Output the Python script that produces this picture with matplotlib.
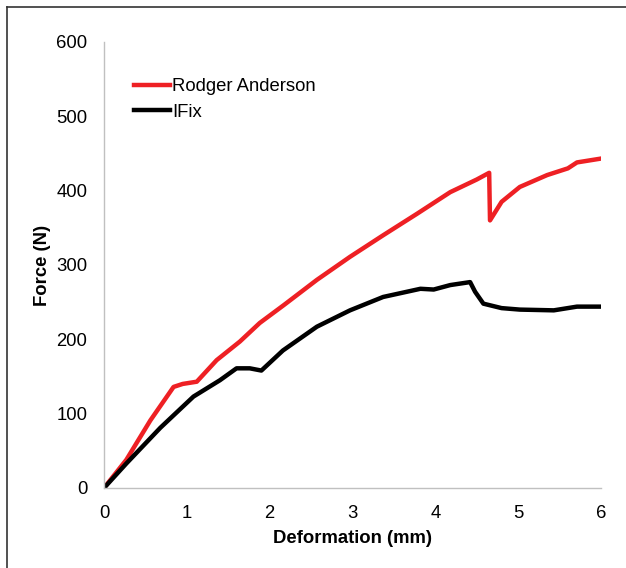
import matplotlib
matplotlib.use("Agg")
import matplotlib.pyplot as plt
from matplotlib.lines import Line2D

plt.rcParams['font.family'] = ['Liberation Sans', 'DejaVu Sans']

# Rodger Anderson
ra_x = [0.0, 0.27, 0.56, 0.84, 0.95, 1.12, 1.36, 1.64, 1.88, 2.17, 2.57, 2.97, 3.37,
        3.78, 4.18, 4.50, 4.65, 4.66, 4.80, 5.02, 5.35, 5.60, 5.71, 5.99]
ra_y = [0, 38, 91, 136, 140, 143, 172, 197, 222, 246, 280, 311, 340,
        369, 398, 415, 424, 360, 385, 405, 421, 430, 438, 443]

# IFix
if_x = [0.0, 0.27, 0.68, 1.08, 1.40, 1.60, 1.76, 1.90, 2.16, 2.57, 2.97, 3.37,
        3.82, 3.98, 4.18, 4.42, 4.48, 4.58, 4.80, 5.02, 5.43, 5.71, 5.99]
if_y = [0, 33, 81, 123, 145, 161, 161, 158, 185, 217, 239, 257,
        268, 267, 273, 277, 264, 248, 242, 240, 239, 244, 244]

series_names = ['Rodger Anderson', 'IFix']
colors = ['#ee2024', '#000000']

x_ticks = [0, 1, 2, 3, 4, 5, 6]
y_ticks = [0, 100, 200, 300, 400, 500, 600]

FS = 13.3

fig = plt.figure(figsize=(6.26, 5.68), dpi=100)
ax = fig.add_axes([104/626, 1-488/568, (601-104)/626, (488-42)/568])

ax.plot(ra_x, ra_y, color=colors[0], lw=3.2, solid_joinstyle='round', label=series_names[0])
ax.plot(if_x, if_y, color=colors[1], lw=3.2, solid_joinstyle='round', label=series_names[1])

ax.set_xlim(0, 6)
ax.set_ylim(0, 600)
ax.set_xticks(x_ticks)
ax.set_yticks(y_ticks)
ax.tick_params(length=0, labelsize=FS)
ax.tick_params(axis='x', pad=12)
ax.tick_params(axis='y', pad=12)
for s in ['top', 'right']:
    ax.spines[s].set_visible(False)
for s in ['left', 'bottom']:
    ax.spines[s].set_color('#c0c0c0')
    ax.spines[s].set_linewidth(1.0)

ax.set_xlabel('Deformation (mm)', fontsize=FS, fontweight='bold', labelpad=6)
ax.set_ylabel('Force (N)', fontsize=FS, fontweight='bold', labelpad=4)

leg = ax.legend(loc='upper left', bbox_to_anchor=((133-104)/497 - 0.012, 0.935), frameon=False,
                fontsize=FS, handlelength=1.95, handletextpad=0.1, labelspacing=0.45,
                borderaxespad=0.0)

# figure border (top and left)
fig.add_artist(Line2D([7/626, 7/626], [0, 1-7/568], color='#333333', lw=1.2, transform=fig.transFigure))
fig.add_artist(Line2D([7/626, 1], [1-7/568, 1-7/568], color='#333333', lw=1.2, transform=fig.transFigure))

fig.savefig('out.png', dpi=100)
